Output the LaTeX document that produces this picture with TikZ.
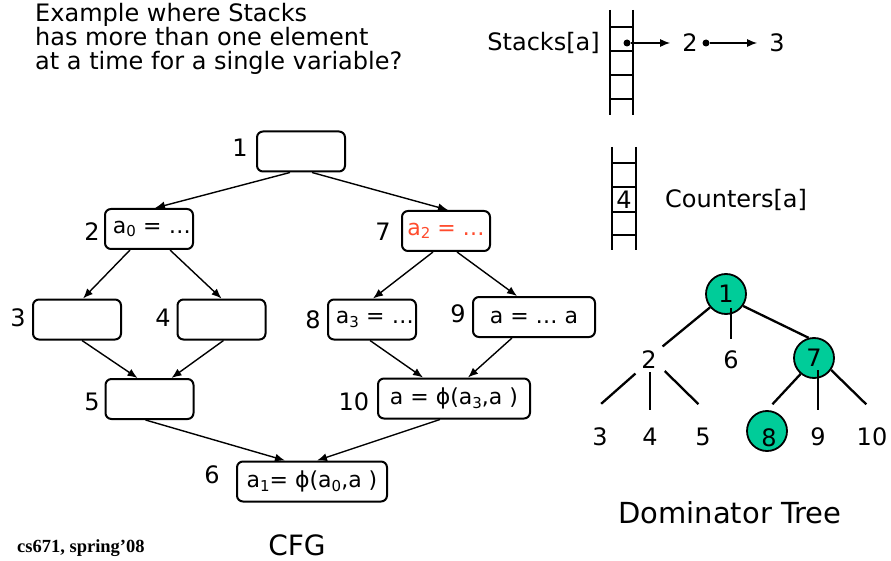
\documentclass[tikz,border=0pt]{standalone}
\usepackage{fontspec}
\usepackage{xcolor}
\usepackage{tikz}
\usetikzlibrary{arrows.meta}
\setmainfont{DejaVu Sans}
\newfontfamily\footfont{Liberation Serif}

\definecolor{domgreen}{RGB}{0,204,153}
\definecolor{defred}{RGB}{255,75,45}

% version subscript of a variable
\newcommand\vsub[1]{\raisebox{-0.3ex}{\fontsize{15}{15}\selectfont #1}}

\tikzset{
  blk/.style={draw, line width=2pt, rounded corners=6pt, minimum width=88pt, minimum height=40pt, inner sep=2pt, font=\fontsize{22}{24}\selectfont},
  rtext/.style={text width=84pt, align=right},
  num/.style={inner sep=1pt, font=\fontsize{24}{26}\selectfont},
  flow/.style={-{Latex[length=10pt,width=8pt]}, line width=1.4pt},
  rung/.style={line width=2pt},
  dom/.style={draw, circle, fill=domgreen, line width=1.8pt, minimum size=40pt, inner sep=0pt, font=\fontsize{24}{26}\selectfont},
  tlab/.style={circle, minimum size=38pt, inner sep=0pt, font=\fontsize{24}{26}\selectfont},
  leaf/.style={circle, minimum size=66pt, inner sep=0pt, font=\fontsize{24}{26}\selectfont},
  tline/.style={line width=2.3pt},
  vline/.style={tline, shorten <=12pt, shorten >=27pt}
}

\begin{document}
\begin{tikzpicture}[x=1pt, y=-1pt]
    \useasboundingbox (0,0) rectangle (891,561);

    % Question
    \node[anchor=north west, inner sep=0pt, align=left, font=\fontsize{24}{24}\selectfont] (intro) at (35,3)
        {Example where Stacks\\has more than one element\\at a time for a single variable?};

    % Stacks[a]
    \foreach \x in {610,633} \draw[rung] (\x,10) -- (\x,115);
    \foreach \y in {27,51,75,99} \draw[rung] (610,\y) -- (633,\y);
    \node[anchor=east, inner sep=0pt, font=\fontsize{24}{26}\selectfont] (stk) at (600,43) {Stacks[a]};
    \node[circle, fill, inner sep=0pt, minimum size=7pt] (p1) at (627,43) {};
    \node[num, inner xsep=12pt] (s2) at (690,43) {2};
    \node[circle, fill, inner sep=0pt, minimum size=7pt] (p2) at (706,43) {};
    \node[num, inner xsep=12pt] (s3) at (777,43) {3};
    \draw[flow] (p1) -- (s2);
    \draw[flow] (p2) -- (s3);

    % Counters[a]
    \foreach \x in {612,636} \draw[rung] (\x,147) -- (\x,250);
    \foreach \y in {163,187,212,235} \draw[rung] (612,\y) -- (636,\y);
    \node[num] (cnt4) at (624,200) {4};
    \node[anchor=west, inner sep=0pt, font=\fontsize{24}{26}\selectfont] (cnt) at (665,200) {Counters[a]};

    % CFG blocks
    \node[blk] (b1) at (301,151.5) {};
    \node[blk, rtext] (b2) at (149,229) {a\vsub{0} = …};
    \node[blk, text=defred] (b7) at (446,231) {a\vsub{2} = …};
    \node[blk] (b3) at (77,319.5) {};
    \node[blk] (b4) at (221.5,319.5) {};
    \node[blk, rtext] (b8) at (372,319.5) {a\vsub{3} = …};
    \node[blk, minimum width=122pt] (b9) at (534,317) {a = … a};
    \node[blk] (b5) at (149.5,399) {};
    \node[blk, minimum width=152pt] (b10) at (454,398.5) {a = ϕ(a\vsub{3},a )};
    \node[blk, minimum width=150pt] (b6) at (312,481.5) {a\vsub{1}= ϕ(a\vsub{0},a )};

    % block numbers
    \node[num] (n1) at (240,148) {1};
    \node[num] (n2) at (92,232) {2};
    \node[num] (n7) at (383,232) {7};
    \node[num] (n3) at (18,318) {3};
    \node[num] (n4) at (163,318) {4};
    \node[num] (n8) at (313,320) {8};
    \node[num] (n9) at (458,314) {9};
    \node[num] (n5) at (92,402) {5};
    \node[num] (n10) at (354,402) {10};
    \node[num] (n6) at (212,475) {6};

    % CFG edges
    \draw[flow] ([xshift=-11pt]b1.south) -- ([xshift=6pt]b2.north);
    \draw[flow] ([xshift=11pt]b1.south) -- ([xshift=2pt]b7.north);
    \draw[flow] ([xshift=-19pt]b2.south) -- ([xshift=6pt]b3.north);
    \draw[flow] ([xshift=21pt]b2.south) -- (b4.north);
    \draw[flow] ([xshift=-13pt]b7.south) -- ([xshift=1pt]b8.north);
    \draw[flow] ([xshift=11pt]b7.south) -- ([xshift=-17pt]b9.north);
    \draw[flow] ([xshift=5pt]b3.south) -- ([xshift=-12pt]b5.north);
    \draw[flow] ([xshift=2pt]b4.south) -- ([xshift=22pt]b5.north);
    \draw[flow] ([xshift=-2pt]b8.south) -- ([xshift=-31pt]b10.north);
    \draw[flow] ([xshift=-22pt]b9.south) -- ([xshift=14pt]b10.north);
    \draw[flow] ([xshift=-4pt]b5.south) -- ([xshift=-27pt]b6.north);
    \draw[flow] ([xshift=-14pt]b10.south) -- ([xshift=5pt]b6.north);

    % Dominator tree
    \node[dom] (d1) at (726,294) {1};
    \node[dom] (d7) at (814,358) {7};
    \node[dom, label={[xshift=2pt, yshift=-7pt, font=\fontsize{24}{26}\selectfont]center:8}] (d8) at (767,431) {};
    \node[tlab] (d2) at (649,360) {2};
    \node[tlab] (d6) at (731,360) {6};
    \node[leaf] (d3) at (600,437) {3};
    \node[leaf] (d4) at (650,437) {4};
    \node[leaf] (d5) at (703,437) {5};
    \node[leaf] (d9) at (818,437) {9};
    \node[leaf] (d10) at (872,437) {10};

    \draw[tline] (d1.-140) -- (d2.45);
    \draw[tline, shorten <=14pt, shorten >=21pt] (d1.center -| d6.center) -- (d6.center);
    \draw[tline] (d1.-35) -- (d7.105);
    \draw[tline] (d2.-135) -- (d3.88);
    \draw[vline] (d2.center -| d4.center) -- (d4.center);
    \draw[tline] (d2.-35) -- (d5.98);
    \draw[tline, shorten >=8pt] (d7.-130) -- (d8.north);
    \draw[vline] (d7.center -| d9.center) -- (d9.center);
    \draw[tline] (d7.-35) -- (d10.100);

    % captions
    \node[font=\fontsize{29}{32}\selectfont] (domcap) at (730,513) {Dominator Tree};
    \node[font=\fontsize{28}{30}\selectfont] (cfgcap) at (297,545) {CFG};
    \node[anchor=west, inner sep=0pt, font=\footfont\bfseries\fontsize{18.5}{20}\selectfont] (foot) at (17,548) {cs671, spring’08};
\end{tikzpicture}
\end{document}
